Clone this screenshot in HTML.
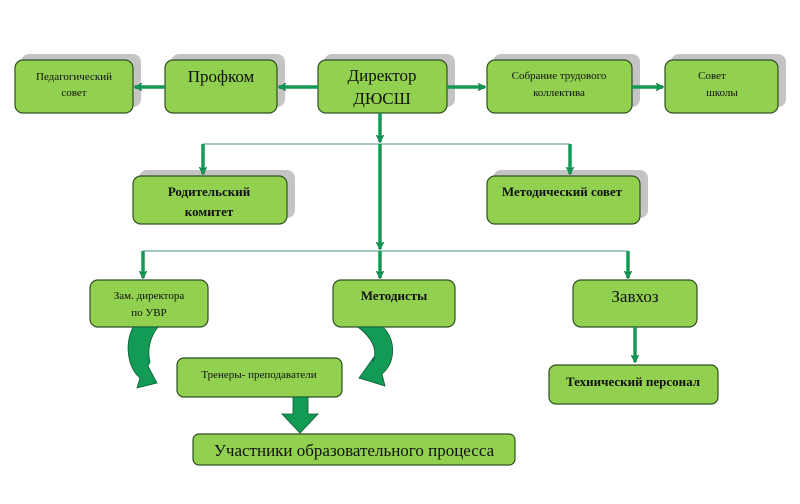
<!DOCTYPE html>
<html><head><meta charset="utf-8"><style>
html,body{margin:0;padding:0;background:#fff;}
svg{display:block;}
text{font-family:"Liberation Serif",serif;fill:#111;}
</style></head><body>
<svg width="800" height="504" viewBox="0 0 800 504" xmlns="http://www.w3.org/2000/svg">
<defs>
<marker id="ah" markerWidth="8" markerHeight="8" refX="7" refY="4" orient="auto" markerUnits="userSpaceOnUse"><path d="M0,0 L8,4 L0,8 L2,4 Z" fill="#139a55" stroke="#0a6e3a" stroke-width="0.5"/></marker>
</defs>
<g fill="#c4c4c4">
<rect x="21" y="54" width="120" height="53" rx="8"/>
<rect x="171" y="54" width="114" height="53" rx="8"/>
<rect x="324" y="54" width="131" height="53" rx="8"/>
<rect x="493" y="54" width="147" height="53" rx="8"/>
<rect x="671" y="54" width="115" height="53" rx="8"/>
<rect x="139" y="170" width="156" height="48" rx="8"/>
<rect x="493" y="170" width="155" height="48" rx="8"/>
</g>
<g fill="#92d050" stroke="#2f4f1f" stroke-width="1.2">
<rect x="15" y="60" width="118" height="53" rx="8"/>
<rect x="165" y="60" width="112" height="53" rx="8"/>
<rect x="318" y="60" width="129" height="53" rx="8"/>
<rect x="487" y="60" width="145" height="53" rx="8"/>
<rect x="665" y="60" width="113" height="53" rx="8"/>
<rect x="133" y="176" width="154" height="48" rx="8"/>
<rect x="487" y="176" width="153" height="48" rx="8"/>
<rect x="90" y="280" width="118" height="47" rx="8"/>
<rect x="333" y="280" width="122" height="47" rx="8"/>
<rect x="573" y="280" width="124" height="47" rx="8"/>
<rect x="177" y="358" width="165" height="39" rx="7"/>
<rect x="549" y="365" width="169" height="39" rx="7"/>
<rect x="193" y="434" width="322" height="31" rx="6"/>
</g>
<g stroke="#6fa79a" stroke-width="1.2">
<line x1="203" y1="144" x2="570" y2="144"/>
<line x1="143" y1="251" x2="628" y2="251"/>
</g>
<g stroke="#139a55" stroke-width="3.5" fill="none" marker-end="url(#ah)">
<line x1="318" y1="87" x2="279" y2="87"/>
<line x1="165" y1="87" x2="135" y2="87"/>
<line x1="447" y1="87" x2="485" y2="87"/>
<line x1="632" y1="87" x2="663" y2="87"/>
<line x1="380" y1="113" x2="380" y2="142"/>
<line x1="380" y1="144" x2="380" y2="249"/>
<line x1="380" y1="251" x2="380" y2="278"/>
<line x1="203" y1="144" x2="203" y2="174"/>
<line x1="570" y1="144" x2="570" y2="174"/>
<line x1="143" y1="251" x2="143" y2="278"/>
<line x1="628" y1="251" x2="628" y2="278"/>
<line x1="635" y1="327" x2="635" y2="362"/>
</g>
<path d="M133,327 L158,327 C150,337 147,350 150,362 L148,366 L157,383 L137,388 L140,378 C128,368 124,345 133,327 Z" fill="#139a55" stroke="#0a5a30" stroke-width="0.8"/>
<path d="M358,327 L383,327 C396,340 396,362 382,374 L385,386 L359,378 L374,357 L373,362 C378,350 372,338 358,327 Z" fill="#139a55" stroke="#0a5a30" stroke-width="0.8"/>
<path d="M293,397 L308,397 L308,414 L318,414 L300,433 L282,414 L293,414 Z" fill="#139a55" stroke="#0a5a30" stroke-width="0.8"/>
<g text-anchor="middle">
<text x="74" y="80" font-size="11">Педагогический</text>
<text x="74" y="96" font-size="11">совет</text>
<text x="221" y="82" font-size="17">Профком</text>
<text x="382" y="81" font-size="17">Директор</text>
<text x="382" y="104" font-size="17">ДЮСШ</text>
<text x="559" y="79" font-size="11">Собрание трудового</text>
<text x="559" y="96" font-size="11">коллектива</text>
<text x="712" y="79" font-size="11" font-family="Liberation Sans">Совет</text>
<text x="722" y="96" font-size="11" font-family="Liberation Sans">школы</text>
<text x="209" y="196" font-size="13" font-weight="bold">Родительский</text>
<text x="209" y="216" font-size="13" font-weight="bold">комитет</text>
<text x="562" y="196" font-size="13" font-weight="bold">Методический совет</text>
<text x="149" y="299" font-size="11">Зам. директора</text>
<text x="149" y="316" font-size="11">по УВР</text>
<text x="394" y="300" font-size="13" font-weight="bold">Методисты</text>
<text x="635" y="302" font-size="17">Завхоз</text>
<text x="259" y="378" font-size="11">Тренеры- преподаватели</text>
<text x="633" y="386" font-size="13" font-weight="bold">Технический персонал</text>
<text x="354" y="456" font-size="17">Участники образовательного процесса</text>
</g>
</svg>
</body></html>
